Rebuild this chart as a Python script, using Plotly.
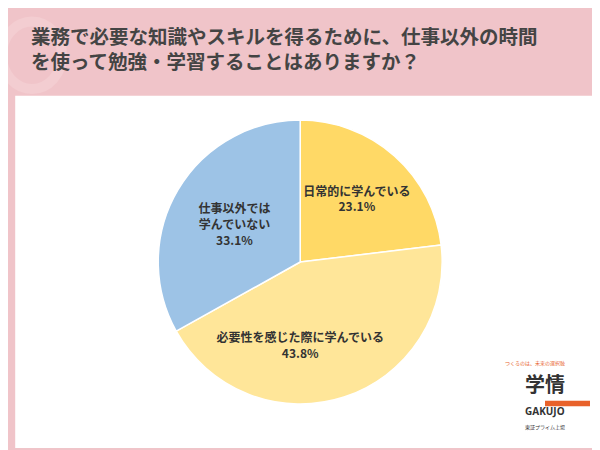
import plotly.graph_objects as go

labels = ["日常的に学んでいる", "必要性を感じた際に学んでいる", "仕事以外では<br>学んでいない"]
values = [23.1, 43.8, 33.1]
colors = ["#FFD966", "#FFE699", "#9DC3E6"]
title = "業務で必要な知識やスキルを得るために、仕事以外の時間<br>を使って勉強・学習することはありますか？"

fig = go.Figure(go.Pie(
    labels=labels, values=values, sort=False, direction="clockwise", rotation=0,
    marker=dict(colors=colors, line=dict(color="white", width=1.5)),
    texttemplate="<b>%{label}</b><br><b>%{value:.1f}%</b>", textposition="inside",
    insidetextorientation="horizontal",
    textfont=dict(family="Noto Sans CJK JP", size=12, color="#333333"),
    domain=dict(x=[0.25, 0.724], y=[0.12, 0.751]), showlegend=False, hoverinfo="skip",
))
fig.update_layout(
    width=600, height=450, margin=dict(l=0, r=0, t=0, b=0),
    paper_bgcolor="#F0C4C9", plot_bgcolor="#F0C4C9",
    shapes=[
        dict(type="circle", xref="paper", yref="paper", x0=-0.01, x1=0.09, y0=0.82, y1=0.97,
             line=dict(color="#F3CDD1", width=10), layer="below"),
        dict(type="rect", xref="paper", yref="paper", x0=0.012, x1=0.988, y0=0.022, y1=0.805,
             fillcolor="white", line=dict(width=0), layer="below"),
        dict(type="rect", xref="paper", yref="paper", x0=0.895, x1=0.97, y0=0.115, y1=0.127,
             fillcolor="#E8622B", line=dict(width=0)),
    ],
    annotations=[
        dict(text="<b>" + title + "</b>", x=0.035, y=0.975, xref="paper", yref="paper",
             xanchor="left", yanchor="top", align="left", showarrow=False,
             font=dict(family="Noto Sans CJK JP", size=19.5, color="#444444")),
        dict(text="つくるのは、未来の選択肢", x=0.932, y=0.198, xref="paper", yref="paper",
             showarrow=False, font=dict(family="Noto Sans CJK JP", size=5, color="#E8622B")),
        dict(text="<b>学情</b>", x=0.932, y=0.13, xref="paper", yref="paper", yanchor="bottom",
             showarrow=False, font=dict(family="Noto Sans CJK JP", size=20, color="#333333")),
        dict(text="<b>GAKUJO</b>", x=0.932, y=0.085, xref="paper", yref="paper",
             showarrow=False, font=dict(family="Noto Sans", size=10, color="#333333")),
        dict(text="東証プライム上場", x=0.932, y=0.055, xref="paper", yref="paper",
             showarrow=False, font=dict(family="Noto Sans CJK JP", size=5, color="#333333")),
    ],
)
fig.write_html("out.html")
